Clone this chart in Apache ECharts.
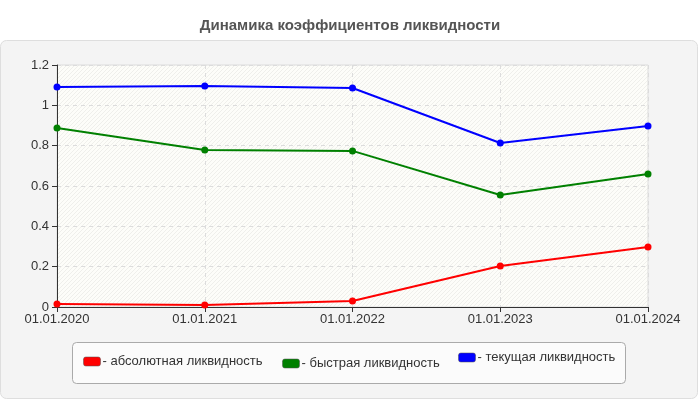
<!DOCTYPE html>
<html><head><meta charset="utf-8">
<script src="https://cdn.jsdelivr.net/npm/echarts@6/dist/echarts.min.js"></script>
<style>html,body{margin:0;padding:0;background:#fff}#c{width:700px;height:400px}</style>
</head><body><div id="c"></div>
<script>
var categories = ['01.01.2020','01.01.2021','01.01.2022','01.01.2023','01.01.2024'];
var absoluteLiq = [0.015, 0.01, 0.03, 0.203, 0.298];
var quickLiq = [0.888, 0.778, 0.774, 0.555, 0.66];
var currentLiq = [1.091, 1.096, 1.086, 0.813, 0.897];
var seriesNames = ['- абсолютная ликвидность','- быстрая ликвидность','- текущая ликвидность'];
var colors = ['#ff0000','#008000','#0000ff'];

var cv = document.createElement('canvas');
cv.width = 4; cv.height = 4;
var cx = cv.getContext('2d');
cx.fillStyle = '#fdfdf9'; cx.fillRect(0,0,4,4);
cx.strokeStyle = 'rgba(190,190,185,0.22)'; cx.lineWidth = 1;
cx.beginPath(); cx.moveTo(0,4); cx.lineTo(4,0); cx.moveTo(-1,1); cx.lineTo(1,-1); cx.moveTo(3,5); cx.lineTo(5,3); cx.stroke();

var chart = echarts.init(document.getElementById('c'), null, {renderer:'canvas'});
var font = 'Arial, "Liberation Sans", sans-serif';
function mk(name, data, color){
  return {name:name, type:'line', data:data, color:color, symbol:'circle', symbolSize:7,
    lineStyle:{width:2, color:color}, itemStyle:{color:color}, z:3};
}
function lg(name, left, top){
  return {data:[name], left:left, top:top, itemWidth:17, itemHeight:9, itemGap:4,
    icon:'roundRect', itemStyle:{borderColor:'rgba(80,80,80,0.5)', borderWidth:1},
    textStyle:{fontFamily:font, fontSize:13, color:'#333', padding:[0,0,0,-3]}, padding:0,
    selectedMode:false};
}
chart.setOption({
  animation:false,
  backgroundColor:'#fff',
  title:{text:'Динамика коэффициентов ликвидности', left:'center', top:13,
    textStyle:{fontFamily:font, fontSize:15, fontWeight:'bold', color:'#555'}},
  graphic:[
    {type:'rect', z:-10, shape:{x:0.5, y:40.5, width:697, height:358, r:6},
      style:{fill:'#f4f4f4', stroke:'#dedede', lineWidth:1}},
    {type:'rect', z:-5, shape:{x:72.5, y:342.5, width:553, height:41, r:4},
      style:{fill:'#fbfbfb', stroke:'#aaaaaa', lineWidth:1}}
  ],
  legend:[lg(seriesNames[0], 83, 355), lg(seriesNames[1], 282, 357), lg(seriesNames[2], 458, 351)],
  grid:{left:57, right:52, top:65, bottom:93, show:true,
    backgroundColor:{image:cv, repeat:'repeat'}, borderColor:'#dddddd', borderWidth:1},
  xAxis:{type:'category', data:categories, boundaryGap:false,
    axisLine:{lineStyle:{color:'#333', width:1}},
    axisTick:{show:true, length:5, lineStyle:{color:'#333'}},
    axisLabel:{fontFamily:font, fontSize:13, color:'#333', margin:6},
    splitLine:{show:true, lineStyle:{color:'#dcdcdc', type:[4,4]}}},
  yAxis:{type:'value', min:0, max:1.2, interval:0.2,
    axisLine:{show:true, lineStyle:{color:'#333', width:1}},
    axisTick:{show:true, length:5, lineStyle:{color:'#333'}},
    axisLabel:{fontFamily:font, fontSize:13, color:'#333', margin:8,
      formatter:function(v){return String(Math.round(v*10)/10);}},
    splitLine:{show:true, lineStyle:{color:'#dcdcdc', type:[4,4]}}},
  series:[mk(seriesNames[0], absoluteLiq, colors[0]), mk(seriesNames[1], quickLiq, colors[1]), mk(seriesNames[2], currentLiq, colors[2])]
});
</script></body></html>
